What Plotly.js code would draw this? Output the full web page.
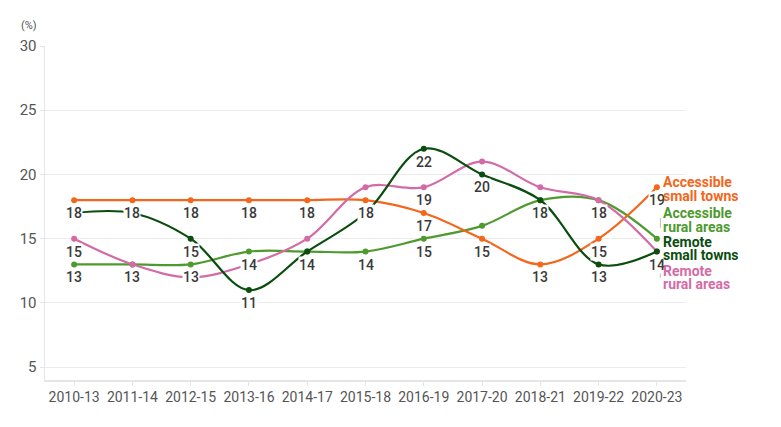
<!DOCTYPE html>
<html>
<head>
<meta charset="utf-8">
<script src="https://cdn.plot.ly/plotly-3.0.1.min.js"></script>
<style>
  body { margin: 0; background: #fff; }
  #chart { width: 781px; height: 427px; }
</style>
</head>
<body>
<div id="chart"></div>
<script>
// periods on the x axis
var periods = ['2010-13', '2011-14', '2012-15', '2013-16', '2014-17', '2015-18',
               '2016-19', '2017-20', '2018-21', '2019-22', '2020-23'];

// values (%)
var accessibleTowns = [18, 18, 18, 18, 18, 18, 17, 15, 13, 15, 19];
var accessibleRural = [13, 13, 13, 14, 14, 14, 15, 16, 18, 18, 15];
var remoteTowns     = [17, 17, 15, 11, 14, 17, 22, 20, 18, 13, 14];
var remoteRural     = [15, 13, 12, 13, 15, 19, 19, 21, 19, 18, 14];

// which values carry a number label ('' = no label)
var accessibleTownsLbl = ['18', '18', '18', '18', '18', '18', '17', '15', '13', '15', '19'];
var accessibleRuralLbl = ['13', '13', '13', '14', '14', '14', '15', '', '18', '18', ''];
var remoteTownsLbl     = ['', '', '15', '11', '', '', '22', '20', '', '13', ''];
var remoteRuralLbl     = ['15', '', '', '', '', '', '19', '', '', '', '14'];

// series names at the right end, two lines each
var seriesNames  = [['Accessible', 'small towns'], ['Accessible', 'rural areas'],
                    ['Remote', 'small towns'], ['Remote', 'rural areas']];
var seriesColors = ['#f4661b', '#4e9a2e', '#0b4d0f', '#d36ba6'];
var nameLevels   = [[19.49, 18.40], [17.07, 15.98], [14.81, 13.80], [12.55, 11.54]];

var allValues = [accessibleTowns, accessibleRural, remoteTowns, remoteRural];
var allLabels = [accessibleTownsLbl, accessibleRuralLbl, remoteTownsLbl, remoteRuralLbl];

var fontFam = 'Roboto, "Liberation Sans", sans-serif';

// draw order: light green, orange, pink, dark green
var order = [1, 0, 3, 2];
var data = order.map(function (i) {
    return {
        x: periods,
        y: allValues[i],
        type: 'scatter',
        mode: 'lines+markers',
        line: { color: seriesColors[i], width: 2.2, shape: 'spline', smoothing: 1 },
        marker: { color: seriesColors[i], size: 6 },
        hoverinfo: 'skip',
        showlegend: false
    };
});

var annotations = [];
allLabels.forEach(function (lbls, s) {
    lbls.forEach(function (t, k) {
        if (t === '') return;
        annotations.push({
            x: periods[k], y: allValues[s][k], xref: 'x', yref: 'y',
            text: t, showarrow: false, yshift: -13,
            bgcolor: '#ffffff', borderpad: 0,
            font: { family: fontFam, size: 14, weight: 500, color: '#3a3a3a' }
        });
    });
});

seriesNames.forEach(function (lines, s) {
    lines.forEach(function (line, j) {
        annotations.push({
            x: periods[periods.length - 1], y: nameLevels[s][j], xref: 'x', yref: 'y',
            text: '<b>' + line + '</b>', showarrow: false, xanchor: 'left', xshift: 4,
            height: 13, valign: 'middle',
            font: { family: fontFam, size: 14, color: seriesColors[s] }
        });
    });
});

annotations.push({
    x: 0, y: 1, xref: 'paper', yref: 'paper', xanchor: 'right', yanchor: 'bottom',
    xshift: -6, yshift: 12, text: '(%)', showarrow: false,
    font: { family: fontFam, size: 11, color: '#555555' }
});

var layout = {
    width: 781,
    height: 427,
    margin: { l: 45, r: 95, t: 46, b: 47 },
    paper_bgcolor: '#ffffff',
    plot_bgcolor: '#ffffff',
    showlegend: false,
    xaxis: {
        range: [-0.5, 10.5],
        showgrid: false,
        showline: true,
        linecolor: '#e6e6e6',
        linewidth: 1.5,
        ticks: 'outside',
        ticklen: 4,
        tickcolor: '#e6e6e6',
        tickfont: { family: fontFam, size: 14, color: '#555555' },
        fixedrange: true
    },
    yaxis: {
        range: [4, 30],
        tickvals: [5, 10, 15, 20, 25, 30],
        gridcolor: '#ececec',
        zeroline: false,
        showline: true,
        linecolor: '#e6e6e6',
        linewidth: 1.5,
        ticks: 'outside',
        ticklen: 4,
        tickcolor: '#e6e6e6',
        tickfont: { family: fontFam, size: 15, color: '#555555' },
        fixedrange: true
    },
    shapes: [
        { type: 'line', xref: 'x', yref: 'y', x0: 10.06, x1: 10.06, y0: 16.6, y1: 15.85,
          line: { color: '#bbbbbb', width: 1 } },
        { type: 'line', xref: 'x', yref: 'y', x0: 10.06, x1: 10.06, y0: 12.95, y1: 11.95,
          line: { color: '#bbbbbb', width: 1 } }
    ],
    annotations: annotations
};

Plotly.newPlot('chart', data, layout, { displayModeBar: false, staticPlot: true });
</script>
</body>
</html>
